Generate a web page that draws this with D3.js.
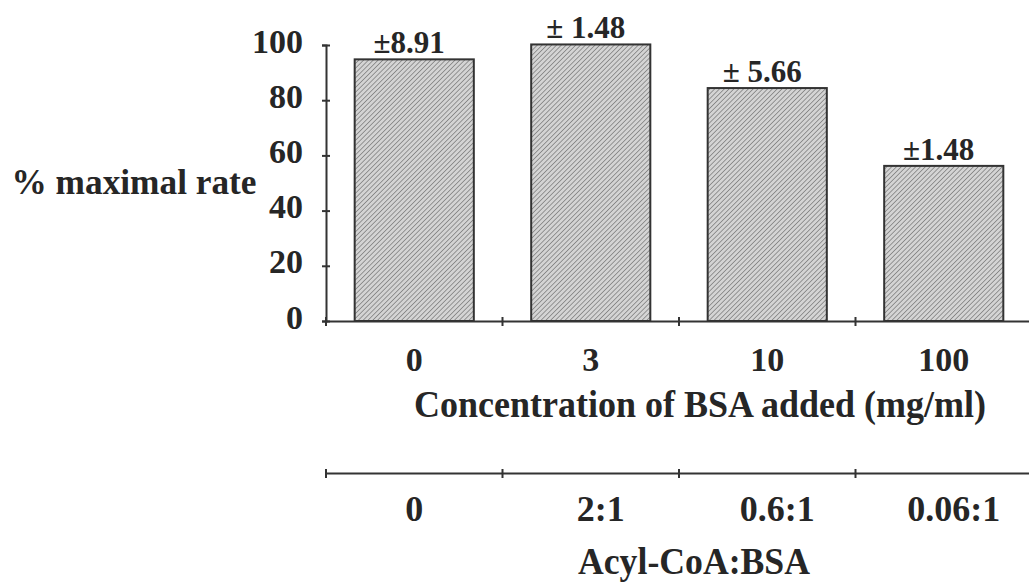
<!DOCTYPE html>
<html>
<head>
<meta charset="utf-8">
<script src="https://cdn.jsdelivr.net/npm/d3@7"></script>
<style>
  html, body { margin: 0; padding: 0; background: #fff; }
  svg text { font-family: "Liberation Serif", "Times New Roman", serif; font-weight: bold; fill: #262626; }
  .axis path, .axis line { stroke: #333; stroke-width: 2; }
</style>
</head>
<body>
<div id="chart"></div>
<script>
// data
const concentrations = ['0', '3', '10', '100']
const ratios = ['0', '2:1', '0.6:1', '0.06:1']
const rates = [94.8, 100.2, 84.4, 56.2]
const errors = ['±8.91', '± 1.48', '± 5.66', '±1.48']
const yTicks = [0, 20, 40, 60, 80, 100]

const width = 1029
const height = 582

const svg = d3.select('#chart').append('svg')
  .attr('width', width)
  .attr('height', height)

// hatch fill for the bars
const defs = svg.append('defs')
const pat = defs.append('pattern')
  .attr('id', 'hatch')
  .attr('patternUnits', 'userSpaceOnUse')
  .attr('width', 3.4)
  .attr('height', 3.4)
  .attr('patternTransform', 'rotate(45)')
pat.append('rect').attr('width', 3.4).attr('height', 3.4).attr('fill', '#d4d4d4')
pat.append('line')
  .attr('x1', 0).attr('y1', 0).attr('x2', 0).attr('y2', 3.4)
  .attr('stroke', '#7c7c7c').attr('stroke-width', 1.5)

const x = d3.scaleBand()
  .domain(concentrations)
  .range([326, 1032])
  .paddingInner(0.325)
  .paddingOuter(0.1625)

const x2 = d3.scaleBand()
  .domain(ratios)
  .range(x.range())
  .paddingInner(0.325)
  .paddingOuter(0.1625)

const y = d3.scaleLinear()
  .domain([0, 100])
  .range([321, 45])

const bounds = d3.range(concentrations.length + 1).map(i => x.range()[0] + i * x.step())

// y axis
const yAxis = svg.append('g')
  .attr('class', 'axis')
  .attr('transform', 'translate(326,0)')
  .call(d3.axisLeft(y).tickValues(yTicks).tickSizeOuter(0).tickSize(4).tickPadding(19))
yAxis.selectAll('.tick line').attr('x1', -4).attr('x2', 4)
yAxis.selectAll('.tick text')
  .style('font-size', '34px')
  .attr('dy', '7')

// bars
svg.selectAll('rect.bar')
  .data(rates)
  .enter()
  .append('rect')
  .attr('class', 'bar')
  .attr('x', (d, i) => x(concentrations[i]))
  .attr('width', x.bandwidth())
  .attr('y', d => y(d))
  .attr('height', d => y(0) - y(d))
  .attr('fill', 'url(#hatch)')
  .attr('stroke', '#333')
  .attr('stroke-width', 2)

// error labels above bars
svg.selectAll('text.err')
  .data(errors)
  .enter()
  .append('text')
  .attr('class', 'err')
  .attr('x', (d, i) => x(concentrations[i]) + x.bandwidth() / 2 - 5)
  .attr('y', (d, i) => y(rates[i]) - 6)
  .attr('text-anchor', 'middle')
  .style('font-size', '31px')
  .text(d => d)

// top x axis
const xAxis = svg.append('g')
  .attr('class', 'axis')
  .attr('transform', `translate(0,${y(0)})`)
  .call(d3.axisBottom(x).tickSize(0).tickSizeOuter(0))
xAxis.selectAll('.tick text')
  .attr('dy', null)
  .attr('y', 50)
  .style('font-size', '34px')
xAxis.selectAll('.mark')
  .data(bounds)
  .enter()
  .append('line')
  .attr('x1', d => d).attr('x2', d => d)
  .attr('y1', -4).attr('y2', 5)

// bottom ratio axis
const rAxis = svg.append('g')
  .attr('class', 'axis')
  .attr('transform', 'translate(0,473)')
  .call(d3.axisBottom(x2).tickSize(0).tickSizeOuter(0))
rAxis.selectAll('.tick text')
  .attr('dy', null)
  .attr('y', 48)
  .attr('dx', (d, i) => i === 0 ? 0 : 10)
  .style('font-size', '36px')
rAxis.selectAll('.mark')
  .data(bounds)
  .enter()
  .append('line')
  .attr('x1', d => d).attr('x2', d => d)
  .attr('y1', -4).attr('y2', 5)

// titles
svg.append('text')
  .attr('x', 134)
  .attr('y', 194)
  .attr('text-anchor', 'middle')
  .attr('textLength', 245)
  .attr('lengthAdjust', 'spacingAndGlyphs')
  .style('font-size', '36px')
  .text('% maximal rate')

svg.append('text')
  .attr('x', 700)
  .attr('y', 417)
  .attr('text-anchor', 'middle')
  .attr('textLength', 572)
  .attr('lengthAdjust', 'spacingAndGlyphs')
  .style('font-size', '37px')
  .text('Concentration of BSA added (mg/ml)')

svg.append('text')
  .attr('x', 694)
  .attr('y', 574)
  .attr('text-anchor', 'middle')
  .attr('textLength', 232)
  .attr('lengthAdjust', 'spacingAndGlyphs')
  .style('font-size', '37px')
  .text('Acyl-CoA:BSA')
</script>
</body>
</html>
